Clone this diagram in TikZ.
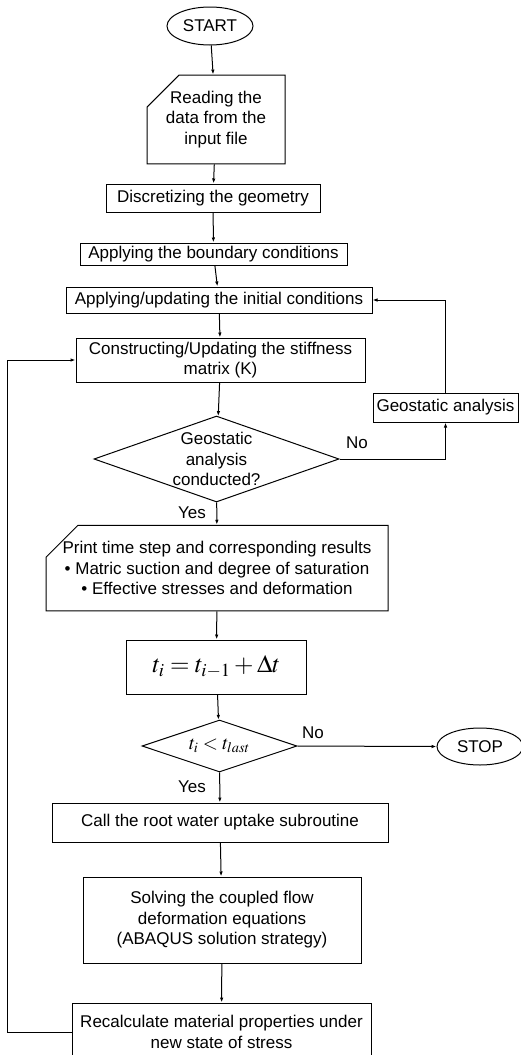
\documentclass[tikz,border=0pt]{standalone}
\usepackage{mathptmx}
\usepackage[no-math]{fontspec}
\setmainfont{Liberation Sans}
\usetikzlibrary{shapes.geometric,shapes.misc,arrows.meta}

\tikzset{
  box/.style={draw, line width=1pt, inner sep=0pt, align=center},
  card/.style={box, chamfered rectangle, chamfered rectangle corners=north west,
    chamfered rectangle xsep=16pt, chamfered rectangle ysep=16pt},
  term/.style={draw, line width=1pt, ellipse, inner sep=0pt, minimum width=86pt, minimum height=38pt},
  decision/.style={draw, line width=1pt, diamond, inner sep=0pt},
  arr/.style={line width=1pt, -{Latex[length=5pt,width=3.5pt]}},
  lbl/.style={inner sep=0pt}
}

\begin{document}
\begin{tikzpicture}[x=1pt, y=-1pt, font=\fontsize{17}{20.5}\selectfont]
			%%%%% START %%%%%
			\useasboundingbox (0, 0) rectangle (521, 1055);
			
			\node[term] (start) at (210, 26) {START};
			\node[card, minimum width=138pt, minimum height=75pt] (read) at (216, 119.5) {Reading the\\data from the\\input file};
			\node[box, minimum width=214pt, minimum height=28pt] (disc) at (213, 198) {Discretizing the geometry};
			\node[box, minimum width=267pt, minimum height=22pt] (bound) at (213.5, 254) {Applying the boundary conditions};
			\node[box, minimum width=306pt, minimum height=26pt] (init) at (219, 300) {Applying/updating the initial conditions};
			\node[box, minimum width=289pt, minimum height=44pt] (cons) at (220.5, 360) {Constructing/Updating the stiffness\\matrix (K)};
			\node[box, minimum width=145pt, minimum height=29pt] (geo) at (445.5, 407.5) {Geostatic analysis};
			
			\node[decision, minimum width=245pt, minimum height=86pt] (geodec) at (216.5, 459) {};
			\node[lbl, align=center] at (geodec) {Geostatic\\analysis\\conducted?};
			
			\node[card, minimum width=342pt, minimum height=82pt] (print) at (217, 568) {Print time step and corresponding results\\\textbullet\ Matric suction and degree of saturation\\\textbullet\ Effective stresses and deformation};
			\node[box, minimum width=180pt, minimum height=54pt, font=\fontsize{25}{28}\selectfont] (tstep) at (216.5, 667) {$t_{i} = t_{i-1} + \Delta t$};
			
			\node[decision, minimum width=155pt, minimum height=52pt] (tdec) at (219.5, 746) {};
			\node[lbl, font=\fontsize{19.5}{22}\selectfont] at (tdec) {$t_{i} < t_{last}$};
			
			\node[term, minimum width=86pt, minimum height=37pt] (stop) at (480, 746.5) {STOP};
			\node[box, minimum width=336pt, minimum height=39pt] (call) at (220, 822.5) {Call the root water uptake subroutine};
			\node[box, minimum width=278pt, minimum height=86pt] (solve) at (222, 920) {Solving the coupled flow\\deformation equations\\(ABAQUS solution strategy)};
			\node[box, minimum width=299pt, minimum height=58pt] (recalc) at (221.5, 1032) {Recalculate material properties under\\new state of stress};
			
			\draw[arr] (start) -- (read);
			\draw[arr] (read) -- (disc);
			\draw[arr] (disc) -- (bound);
			\draw[arr] (bound) -- (init);
			\draw[arr] (init) -- (cons);
			\draw[arr] (cons) -- (geodec);
			\draw[arr] (geodec) -- (print);
			\draw[arr] (print) -- (tstep);
			\draw[arr] (tstep) -- (tdec);
			\draw[arr] (tdec) -- (call);
			\draw[arr] (call) -- (solve);
			\draw[arr] (solve) -- (recalc);
			
			\draw[arr] (geodec.east) -| (geo.south);
			\draw[arr] (geo.north) |- (init.east);
			\draw[arr] (tdec.east) -- (stop.west);
			\draw[arr] (recalc.west) -- ++(-64, 0) |- (cons.west);
			
			\node[lbl] at (357, 443) {No};
			\node[lbl] at (192, 513) {Yes};
			\node[lbl] at (313, 733) {No};
			\node[lbl] at (192, 787) {Yes};
			
			%%%%% END %%%%%
		\end{tikzpicture}
\end{document}
